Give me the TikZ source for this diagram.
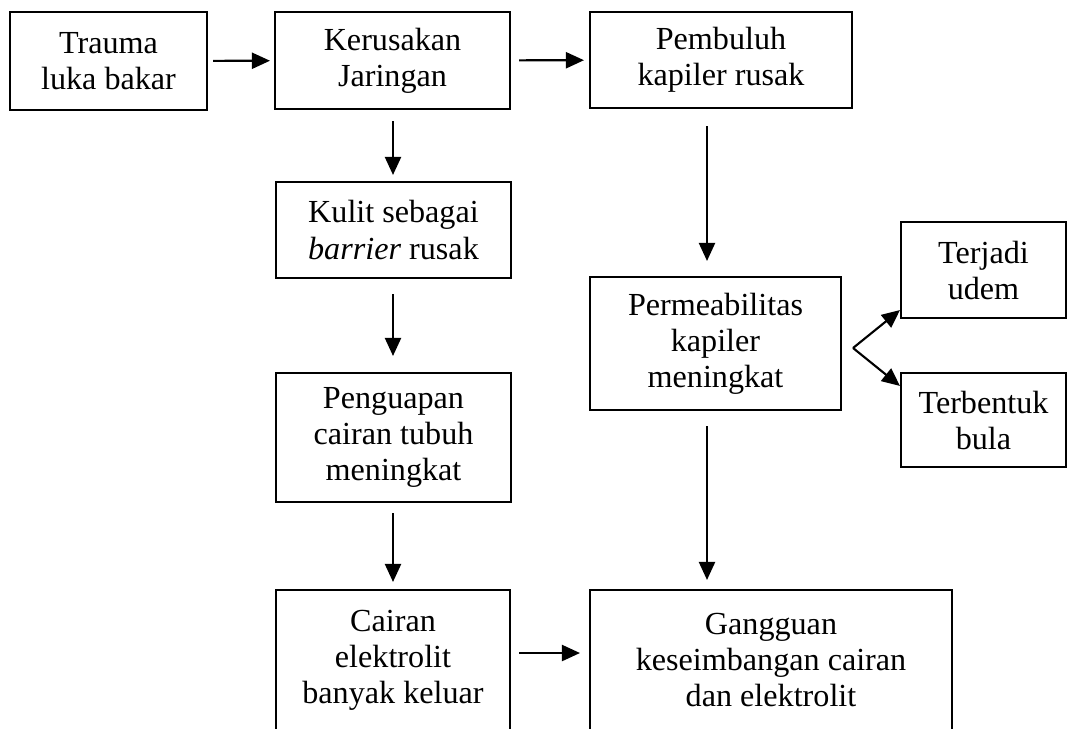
\documentclass[tikz,border=0pt]{standalone}
\usepackage{fontspec}
\setmainfont{Liberation Serif}
\usetikzlibrary{arrows.meta}

\begin{document}
\begin{tikzpicture}[x=0.02cm, y=-0.02cm,
    box/.style={draw, line width=1.2pt, align=center, inner sep=0pt,
        font=\fontsize{18.3}{20.5}\selectfont},
    arr/.style={-{Triangle[length=0.36cm, width=0.32cm]}, line width=1.2pt}]
    % Fix the page size (the lowest boxes run off the bottom)
    \path[use as bounding box, clip] (0,0) rectangle (1067,728);

    % Columns and rows used by the connectors
    \coordinate (xl) at (393,0);
    \coordinate (xr) at (707,0);
    \coordinate (yb) at (0,653);

    % Top row
    \node[box, minimum width=3.94cm, minimum height=1.96cm] (trauma) at (108.5,61) {Trauma\\luka bakar};
    \node[box, minimum width=4.7cm, minimum height=1.94cm] (kerusakan) at (392.5,60.5) {Kerusakan\\Jaringan};
    \node[box, minimum width=5.24cm, minimum height=1.92cm] (pembuluh) at (721,60) {Pembuluh\\kapiler rusak};

    % Left column
    \node[box, minimum width=4.7cm, minimum height=1.92cm] (kulit) at (393.5,230) {Kulit sebagai\\\textit{barrier} rusak};
    \node[box, minimum width=4.7cm, minimum height=2.58cm] (penguapan) at (393.5,437.5) {Penguapan\\cairan tubuh\\meningkat};
    \node[box, minimum width=4.68cm, minimum height=2.8cm] (cairan) at (393,660) {Cairan\\elektrolit\\banyak keluar};

    % Right column
    \node[box, minimum width=5.02cm, minimum height=2.66cm] (permeabilitas) at (715.5,343.5) {Permeabilitas\\kapiler\\meningkat};
    \node[box, minimum width=7.24cm, minimum height=2.8cm] (gangguan) at (771,660) {Gangguan\\keseimbangan cairan\\dan elektrolit};
    \node[box, minimum width=3.3cm, minimum height=1.92cm] (terjadi) at (983.5,270) {Terjadi\\udem};
    \node[box, minimum width=3.3cm, minimum height=1.88cm] (terbentuk) at (983.5,420) {Terbentuk\\bula};

    % Horizontal arrows
    \draw[arr, shorten <=0.1cm, shorten >=0.08cm] (trauma) -- (kerusakan);
    \draw[arr, shorten <=0.16cm, shorten >=0.1cm] (kerusakan) -- (pembuluh);
    \draw[arr, shorten <=0.16cm, shorten >=0.18cm] (cairan.east |- yb) -- (gangguan.west |- yb);

    % Vertical arrows
    \draw[arr, shorten <=0.22cm, shorten >=0.12cm] (kerusakan.south -| xl) -- (kulit.north -| xl);
    \draw[arr, shorten <=0.3cm, shorten >=0.32cm] (kulit.south -| xl) -- (penguapan.north -| xl);
    \draw[arr, shorten <=0.2cm, shorten >=0.14cm] (penguapan.south -| xl) -- (cairan.north -| xl);
    \draw[arr, shorten <=0.34cm, shorten >=0.3cm] (pembuluh.south -| xr) -- (permeabilitas.north -| xr);
    \draw[arr, shorten <=0.3cm, shorten >=0.18cm] (permeabilitas.south -| xr) -- (gangguan.north -| xr);

    % Fork to the two side effects
    \coordinate (fork) at ([xshift=0.22cm, yshift=-0.09cm]permeabilitas.east);
    \draw[arr] (fork) -- ([yshift=0.18cm]terjadi.south west);
    \draw[arr] (fork) -- ([yshift=-0.28cm]terbentuk.north west);
\end{tikzpicture}
\end{document}
